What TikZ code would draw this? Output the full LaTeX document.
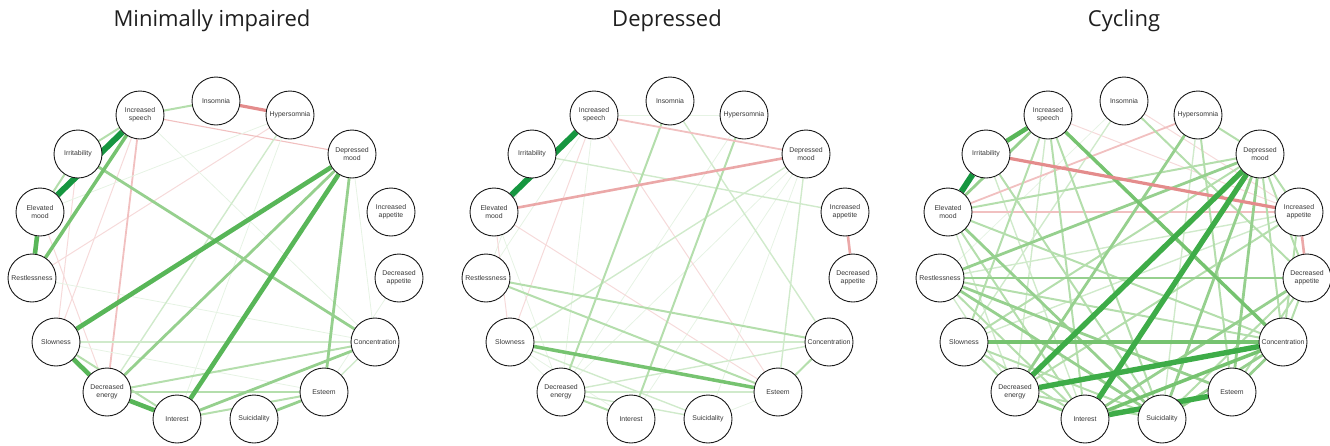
\documentclass[tikz,border=0pt]{standalone}
\usepackage{fontspec}
\setmainfont{Liberation Sans}
\newfontfamily\titlefont{Open Sans}
\usetikzlibrary{backgrounds}

\definecolor{cgA}{RGB}{230,243,228}
\definecolor{cgB}{RGB}{208,234,203}
\definecolor{cgC}{RGB}{180,222,172}
\definecolor{cgD}{RGB}{150,208,142}
\definecolor{cgE}{RGB}{118,195,112}
\definecolor{cgF}{RGB}{88,182,88}
\definecolor{cgH}{RGB}{62,172,72}
\definecolor{cgG}{RGB}{22,150,64}
\definecolor{crA}{RGB}{246,218,218}
\definecolor{crB}{RGB}{241,192,192}
\definecolor{crC}{RGB}{235,168,168}
\definecolor{crD}{RGB}{228,140,140}

\begin{document}
\begin{tikzpicture}[
        x=1pt, y=-1pt,
        symptom/.style={circle, draw=black!90, fill=white, line width=0.9pt, minimum size=48pt,
            inner sep=0pt, align=center, text=black!78, font=\fontsize{6.9}{8.3}\selectfont},
        paneltitle/.style={anchor=base, text=black!88, font=\titlefont\fontsize{22}{26}\selectfont},
        gA/.style={draw=cgA, line width=0.8pt},
        gB/.style={draw=cgB, line width=1.4pt},
        gC/.style={draw=cgC, line width=2pt},
        gD/.style={draw=cgD, line width=2.8pt},
        gE/.style={draw=cgE, line width=3.5pt},
        gF/.style={draw=cgF, line width=4.6pt},
        gH/.style={draw=cgH, line width=5.4pt},
        gG/.style={draw=cgG, line width=6pt},
        rA/.style={draw=crA, line width=1pt},
        rAB/.style={draw=crB, line width=1.1pt},
        rB/.style={draw=crB, line width=1.8pt},
        rC/.style={draw=crC, line width=2.6pt},
        rD/.style={draw=crD, line width=3.2pt}
        ]
\useasboundingbox (0,0) rectangle (1330,445);

\node[paneltitle] (mi-title) at (212,26.5) {Minimally impaired};
\node[paneltitle] (de-title) at (667,26.5) {Depressed};
\node[paneltitle] (cy-title) at (1124,26.5) {Cycling};

% the same ring of symptoms in each panel
\foreach \p/\dx in {mi/0, de/454, cy/908}{
    \foreach \n/\x/\y/\txt in {ins/216/101/Insomnia, hyp/290/115/Hypersomnia,
        spe/140/115/{Increased\\speech}, irr/78/154/Irritability, dep/352/154/{Depressed\\mood},
        ele/40/212/{Elevated\\mood}, iap/391/212/{Increased\\appetite}, res/32/278/Restlessness,
        dap/399/278/{Decreased\\appetite}, slo/56/342/Slowness, con/375/342/Concentration,
        den/107/392/{Decreased\\energy}, est/324/392/Esteem, int/177/419/Interest,
        sui/254/419/Suicidality}{
        \node[symptom] (\p-\n) at (\x+\dx,\y) {\txt};
    }
}

\begin{pgfonlayer}{background}
% minimally impaired
\foreach \a/\b/\s in {hyp/res/rA, spe/slo/rA, irr/slo/rA, ele/den/rA, spe/dep/rAB, spe/den/rB,
    ins/hyp/rD, dep/con/gA, res/con/gA, slo/est/gA, hyp/int/gA, spe/con/gA, dap/est/gA,
    ele/hyp/gA, est/con/gB, slo/con/gB, hyp/den/gB, spe/ins/gC, spe/irr/gC, irr/ele/gC,
    slo/int/gC, den/con/gC, den/est/gC, int/est/gC, irr/con/gD, dep/den/gD, dep/est/gD,
    int/con/gD, sui/est/gD, spe/res/gE, ele/res/gF, dep/slo/gF, dep/int/gF, slo/den/gF,
    den/int/gF, spe/ele/gG}{
    \draw[\s] (mi-\a) -- (mi-\b);
}
% depressed
\foreach \a/\b/\s in {spe/hyp/gA, hyp/den/gA, spe/den/gA, spe/res/gA, irr/res/gA, slo/den/gA,
    slo/int/gA, ele/den/gA, dep/den/gA, dep/int/gA, dep/sui/gA, sui/est/gA, spe/slo/rA,
    ele/slo/rA, spe/est/rA, ele/est/rA, irr/iap/gB, ins/con/gB, slo/con/gB, den/con/gB,
    den/est/gB, den/sui/gB, slo/sui/gB, dep/slo/gB, dep/est/gB, ins/den/gC, hyp/int/gC,
    res/con/gC, res/est/gC, den/int/gC, est/con/gC, slo/est/gE, spe/dep/rB, ele/dep/rC,
    iap/dap/rC, spe/ele/gG}{
    \draw[\s] (de-\a) -- (de-\b);
}
% cycling
\foreach \a/\b/\s in {spe/iap/rA, ins/iap/rA, ins/res/gA, ins/slo/gB, iap/res/gB, iap/slo/gB,
    res/den/gB, spe/den/gB, hyp/sui/gB, irr/int/gB, ele/den/gB, ele/iap/rB, ele/hyp/rB,
    ele/con/gC, irr/sui/gC, hyp/dep/gC, ins/dap/gC, dep/slo/gC, dep/con/gC, dep/iap/gC,
    dep/dap/gC, iap/den/gC, res/con/gC, res/int/gC, slo/den/gC, slo/sui/gC, slo/int/gC,
    den/sui/gC, dap/con/gC, spe/int/gC, spe/sui/gC, spe/slo/gC, iap/con/gC, hyp/est/gC,
    est/dap/gC, sui/dap/gC, ele/int/gC, dep/ele/gC, spe/ele/gD, res/dap/gD, sui/con/gD,
    est/con/gD, den/int/gD, res/dep/gD, ele/sui/gD, hyp/den/gD, dep/sui/gD, dep/est/gD,
    res/est/gD, res/sui/gD, int/dap/gD, spe/con/gE, slo/con/gE, int/con/gE, iap/dap/rC,
    irr/iap/rD, spe/irr/gF, dep/den/gH, dep/int/gH, den/con/gH, int/est/gH, irr/ele/gG}{
    \draw[\s] (cy-\a) -- (cy-\b);
}
\end{pgfonlayer}
\end{tikzpicture}
\end{document}
